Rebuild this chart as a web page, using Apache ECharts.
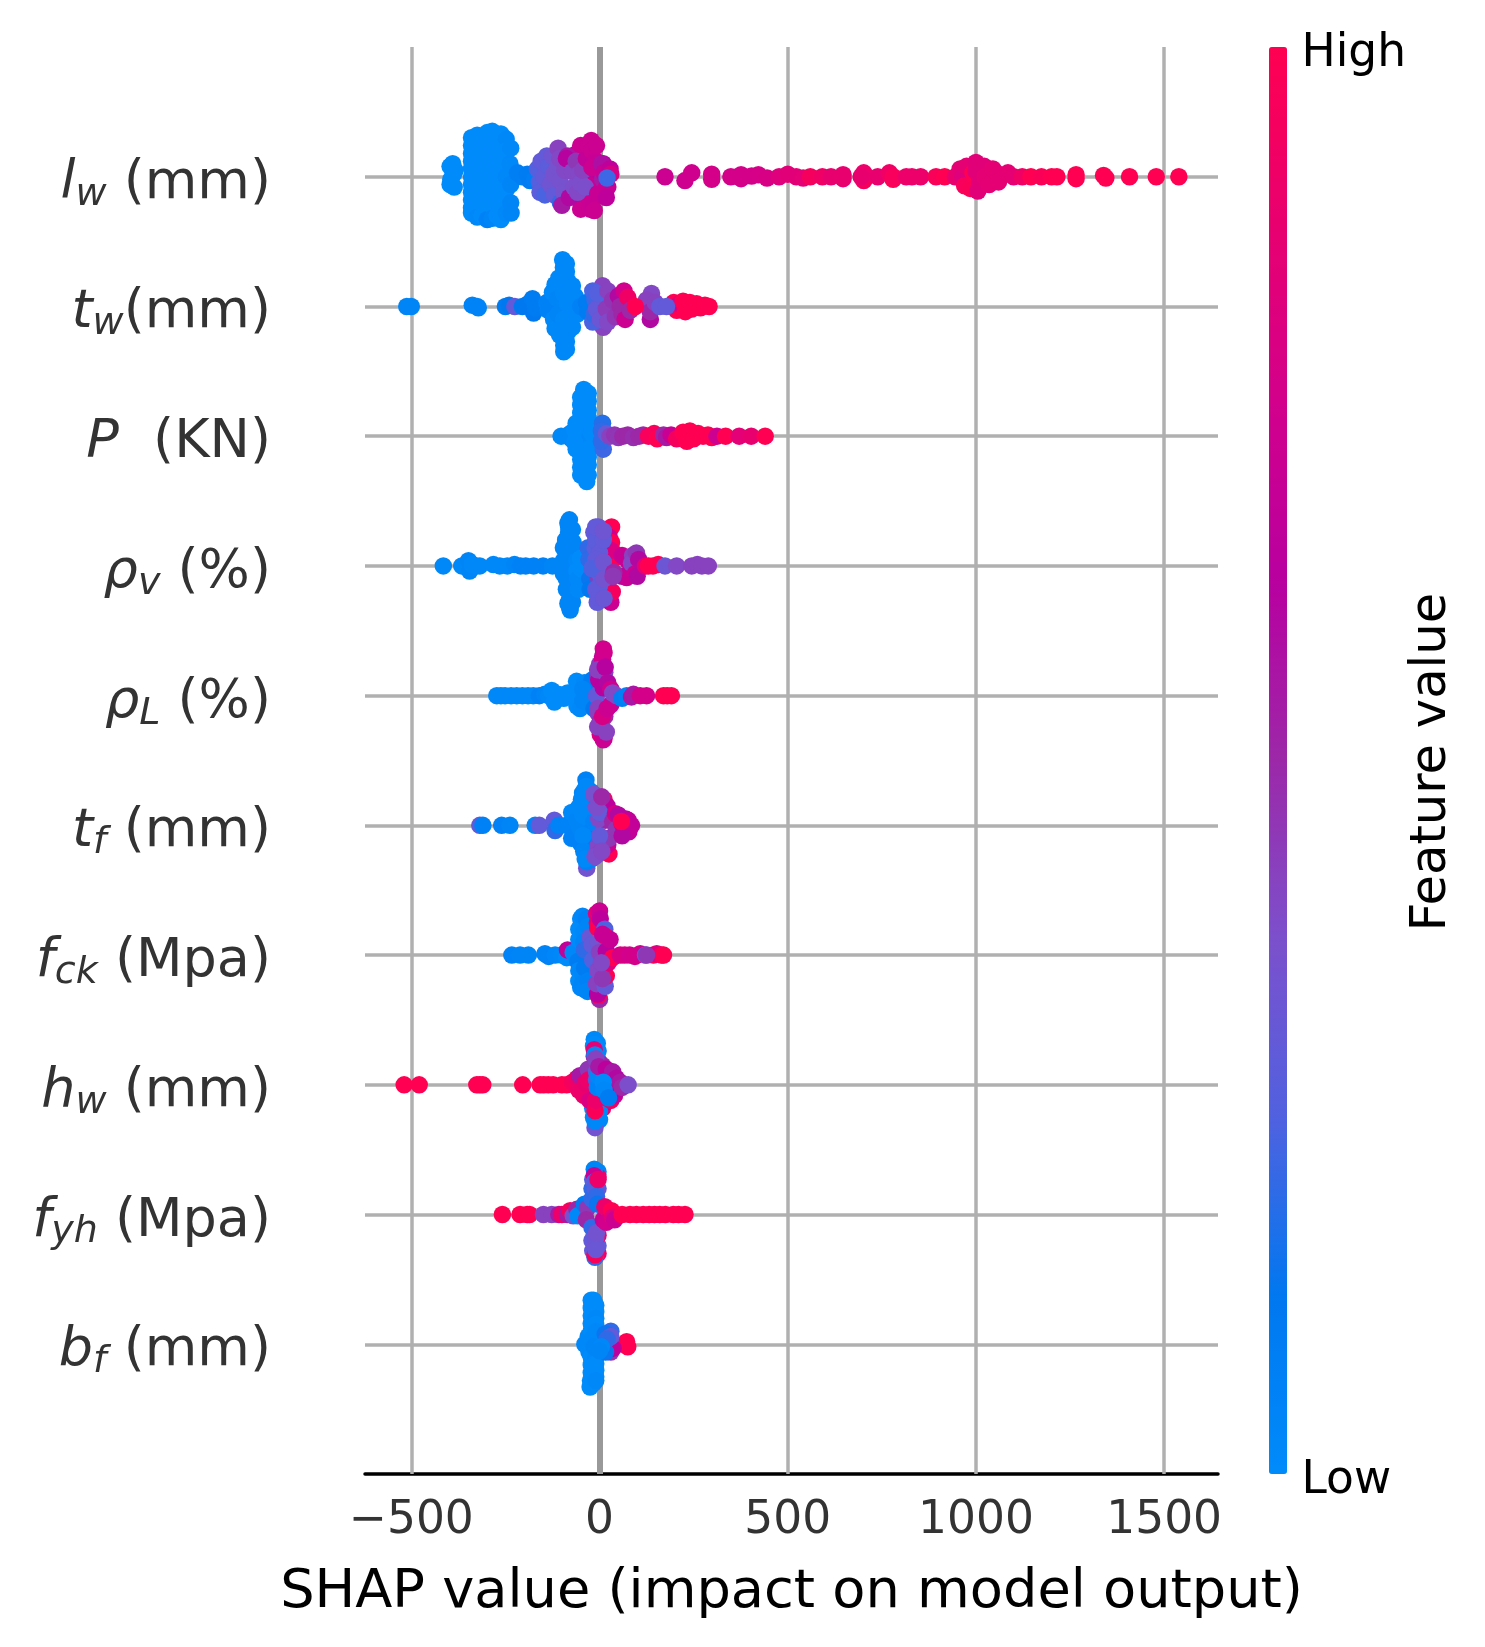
<!DOCTYPE html>
<html>
<head>
<meta charset="utf-8">
<style>html,body{margin:0;padding:0;background:#fff}#c{width:1485px;height:1647px}</style>
<script src="https://cdn.jsdelivr.net/npm/echarts@6/dist/echarts.min.js"></script>
</head>
<body>
<div id="c"></div>
<script>
// Tick labels and categories
const xTicks = [-500, 0, 500, 1000, 1500];
const axisTitle = 'SHAP value (impact on model output)';
const colorbarTitle = 'Feature value';
const colorbarEnds = ['High', 'Low'];
// feature name parts, bottom row first: [symbol, subscript, unit]
const features = [
  ['b','f',' (mm)'],
  ['f','yh',' (Mpa)'],
  ['h','w',' (mm)'],
  ['f','ck',' (Mpa)'],
  ['t','f',' (mm)'],
  ['ρ','L',' (%)'],
  ['ρ','v',' (%)'],
  ['P','','  (KN)'],
  ['t','w','(mm)'],
  ['l','w',' (mm)']
];
// Each point: [SHAP value, swarm offset in row units, normalised feature value]
const lw = [
[-397,.08,0],[-397,-.06,0],[-390,.1,0],[-388,.02,0],[-386,-.08,0],[-384,.05,0],[-395,-.02,0],
[-340,.3,0],[-340,.24,0],[-340,.18,0],[-340,.12,0],[-340,.06,0],[-340,0,0],[-340,-.06,0],[-340,-.12,0],[-340,-.18,0],[-340,-.24,0],[-340,-.28,0],
[-325,.32,0],[-325,.24,0],[-325,.14,0],[-325,.04,0],[-325,-.06,0],[-325,-.16,0],[-325,-.26,0],[-325,-.31,.02],
[-312,.3,0],[-312,.2,0],[-312,.1,0],[-312,0,0],[-312,-.1,0],[-312,-.2,0],[-312,-.3,0],
[-298,.34,0],[-298,.26,0],[-298,.16,0],[-298,.06,0],[-298,-.04,0],[-298,-.14,0],[-298,-.24,0],[-298,-.33,.06],
[-285,.35,0],[-285,.27,0],[-285,.18,0],[-285,.08,0],[-285,-.02,0],[-285,-.12,0],[-285,-.22,0],[-285,-.32,.04],
[-272,.3,0],[-272,.2,0],[-272,.1,0],[-272,0,0],[-272,-.1,0],[-272,-.2,0],[-272,-.3,0],
[-262,.33,0],[-262,.24,0],[-262,.14,0],[-262,.04,0],[-262,-.06,0],[-262,-.16,0],[-262,-.26,0],[-262,-.33,0],
[-248,.29,.02],[-248,.2,0],[-248,.1,0],[-248,0,.02],[-248,-.1,0],[-248,-.2,0],[-248,-.28,.02],
[-238,.1,.02],[-236,-.06,.04],[-236,-.2,.04],[-236,.22,.02],[-235,-.28,.04],
[-218,.03,.08],[-205,.0,.08],[-192,.02,.1],[-185,-.03,.1],[-172,-.02,.08],
[-78,.1,.72],[-70,.14,.72],[-60,.18,.72],[-50,.24,.72],[-42,.16,.72],[-35,.1,.72],[-25,.2,.72],[-30,-.05,.72],[-50,-.25,.72],[-40,-.18,.72],[-30,-.12,.72],[-25,-.2,.72],[-10,.12,.72],[-5,.02,.7],[-8,-.15,.72],[8,-.05,.7],[10,.1,.6],[22,.06,.62],[28,.02,.78],[22,-.08,.7],[15,-.14,.68],
[-165,.06,.26],[-160,-.04,.26],[-158,-.12,.28],[-155,.12,.3],[-148,.0,.3],[-145,-.14,.24],[-140,.16,.3],[-135,.08,.28],[-130,-.06,.34],[-125,.16,.34],[-122,.02,.36],[-120,-.14,.3],[-112,.08,.36],
[-110,.22,.42],[-106,.14,.4],[-105,-.03,.36],[-104,-.2,.2],[-95,-.12,.36],[-100,-.22,.55],[-92,.05,.4],[-85,.16,.55],[-80,-.16,.6],[-88,.14,.62],
[-72,.04,.4],[-68,-.08,.38],[-62,.12,.45],[-55,.02,.4],[-58,-.12,.4],[-50,-.05,.38],[-44,.05,.42],[-38,-.08,.38],
[-35,.14,.68],[-30,.24,.72],[-25,-.25,.72],[-22,.28,.72],[-22,-.22,.7],[-20,.2,.72],[-14,-.26,.72],[-12,.06,.62],[-10,.12,.7],[-8,.24,.72],[-5,-.13,.7],
[-20,.07,.72],[5,.1,.58],[8,-.02,.55],[12,.03,.7],[15,-.1,.7],[18,-.16,.66],[28,.06,.66],[30,.02,.78],[20,-.01,.22],
[174,0,.72],[227,-.03,.73],[245,.03,.74],[298,.02,.76],[298,-.02,.76],[349,0,.76],[376,.015,.76],[376,-.015,.76],[404,.005,.76],[422,.015,.77],[445,-.01,.78],
[477,0,.82],[500,.02,.84],[523,0,.84],[541,-.01,.85],[560,0,.95],[592,0,.92],[615,0,.88],[647,.015,.88],[647,-.015,.88],
[702,.03,.9],[702,-.03,.95],[695,0,.88],[739,0,.88],[770,.03,.92],[780,-.02,1],[780,.0,.96],[815,0,.9],[830,0,.9],[853,0,.9],[894,0,.97],[917,0,1],[945,0,.88],
[958,.06,.86],[965,0,.82],[970,-.07,.96],[975,.08,.86],[985,-.09,.98],[992,.03,1],[1000,.11,.84],[1005,-.11,.84],[1000,.04,.84],[1010,-.04,.84],[1015,.0,.84],[1022,.08,.84],[1025,0,.86],[1035,-.06,.86],
[1045,.06,.86],[1060,.02,.86],[1060,-.04,.86],[1085,.03,.86],[1100,0,.86],[1123,0,.92],[1146,0,1],[1174,0,.98],[1201,0,1],[1215,0,1],
[1266,.015,1],[1266,-.015,1],[1339,.01,1],[1345,-.01,1],[1408,0,1],[1479,0,1],[1539,0,1]
];
const tw = [
[-512,0,.04],[-500,0,.04],[-338,.01,.05],[-325,0,.05],[-322,-.01,.05],
[-250,0,.1],[-240,.01,.12],[-225,0,.3],[-205,0,.12],[-190,.02,.12],[-178,.06,.1],[-175,-.05,.12],[-170,-.01,.1],[-155,0,.1],
[-140,.03,.06],[-136,-.03,.06],[-125,.11,.02],[-122,-.1,.02],[-118,.17,.02],[-118,-.17,.02],[-112,.06,.04],[-110,-.06,.04],[-108,.22,.02],[-106,-.22,.02],
[-98,.36,.02],[-96,.3,.02],[-96,.24,.02],[-96,.17,.02],[-95,.1,.02],[-95,-.1,.02],[-95,-.18,.02],[-95,-.24,.02],[-95,-.3,.02],[-95,-.35,.02],
[-88,.33,.02],[-88,.27,.02],[-88,-.27,.02],[-88,-.33,.02],[-85,.2,.02],[-85,-.2,.02],
[-85,.02,.02],[-80,.12,.02],[-78,-.12,.02],[-72,-.02,.02],[-72,.16,.02],[-72,-.16,.02],[-65,.08,.02],[-60,-.06,.02],[-50,0,.06],[-35,.03,.1],[-32,-.04,.1],
[8,.16,.42],[10,-.16,.42],[14,.07,.38],[-18,.12,.24],[-18,-.12,.24],[-15,-.06,.2],[-12,.05,.22],[-8,-.02,.3],[-5,.1,.26],[2,-.1,.33],[18,-.02,.44],[22,.12,.42],[22,-.12,.4],
[35,.05,.46],[42,-.08,.46],[50,.08,.6],[55,.0,.5],[60,-.06,.5],[65,.12,.75],[68,-.1,.72],[75,.07,.92],[82,-.03,.5],
[197,.03,1],[205,-.03,1],[212,.02,.8],[222,.04,1],[228,-.04,1],[240,.03,1],[245,-.02,1],[258,.02,1],[268,-.01,1],[280,.01,1],[291,0,1],
[138,.1,.4],[135,-.1,.6],[125,.05,.42],[135,-.04,.5],[148,.03,.42],[160,0,.3],[178,.0,.3],[95,0,1]
];
const P = [
[-102,0,.02],[-78,.02,.02],[-75,-.02,.02],
[-50,.3,0],[-50,.24,0],[-50,.18,0],[-50,.12,0],[-50,.06,0],[-50,0,0],[-50,-.06,0],[-50,-.12,0],[-50,-.18,0],[-50,-.24,0],[-50,-.3,0],
[-42,.36,0],[-42,.3,0],[-40,.24,0],[-40,.18,0],[-40,.12,0],[-40,.06,0],[-40,0,0],[-40,-.06,0],[-40,-.12,0],[-40,-.18,0],[-38,-.24,0],[-36,-.3,0],[-34,-.35,0],
[-30,.33,0],[-30,.27,0],[-30,.2,0],[-30,.14,0],[-30,.08,0],[-30,-.02,.02],[-30,-.1,0],[-30,-.16,0],[-30,-.22,0],[-30,-.3,0],
[-66,.05,0],[-66,-.05,0],[-62,.1,0],[-62,-.1,0],[-20,.02,0],
[8,.1,.18],[10,-.1,.22],[5,.04,.2],[5,-.04,.2],[18,.02,.3],[28,0,.42],[40,.01,.46],[50,-.01,.45],[62,.0,.5],[75,.01,.5],[90,-.01,.48],[105,0,.5],[116,.01,.5],
[130,0,.96],[145,.02,.96],[153,-.02,1],[170,.01,.5],[178,-.01,.55],[190,.01,.7],[205,-.02,.95],[222,.03,1],[232,-.04,1],[240,.04,1],[250,-.02,1],[262,.02,1],[275,0,1],[288,.01,1],[298,-.01,1],[312,0,.72],
[335,0,1],[371,0,.85],[403,0,.88],[440,0,1]
];
const rhoV = [
[-415,0,.02],[-366,0,.02],[-355,.01,.02],[-348,.04,.04],[-345,-.04,.04],[-338,.01,.02],[-328,0,.02],[-318,0,.02],
[-282,.01,.02],[-265,0,.02],[-245,0,.02],[-226,.01,.04],[-210,0,.06],[-196,.0,.06],[-175,0,.06],[-150,0,.06],[-125,0,.04],
[-96,.14,.04],[-96,.04,.04],[-96,-.06,.04],[-90,.2,.04],[-84,.33,.04],[-82,.26,.04],[-80,.355,.04],[-80,.1,.04],[-80,-.14,.02],[-80,-.2,.04],[-80,-.26,.04],[-79,-.32,.04],[-78,-.34,.04],
[-82,.3,.04],[-82,.22,.04],[-85,.16,.04],[-88,-.1,.04],[-88,-.18,.04],[-84,-.29,.04],[-72,.28,.04],[-72,-.28,.04],[-70,.18,.04],[-70,.1,.04],[-70,0,.04],[-70,-.1,.04],[-70,-.2,.04],
[-62,.12,.04],[-60,.04,.02],[-60,-.04,0],[-58,-.1,.02],[-56,-.18,.02],[-50,.06,0],[-48,-.02,0],
[32,.3,1],[26,.22,.7],[32,.18,1],[30,-.28,.72],[34,-.2,.95],[38,.1,1],[40,.06,1],[30,.12,.8],
[-30,.14,.2],[-28,.05,.2],[-26,-.1,.14],[-25,-.18,.12],[-15,.26,.3],[-12,.14,.28],[-10,.2,.28],[-6,-.28,.3],[-5,-.22,.3],[-4,-.08,.44],[-3,.3,.34],[0,.1,.3],[0,-.15,.28],[-2,-.05,.3],[-3,-.24,.3],[-10,.3,.3],[-10,-.18,.3],[-10,.05,.3],[-20,-.02,.25],
[10,.2,.3],[10,.27,.34],[12,-.1,.35],[12,-.25,.32],[10,.03,.34],
[60,.08,.7],[60,-.08,.6],[75,.04,.7],[72,-.09,.7],[88,.08,.42],[85,.02,.4],[95,-.06,.72],[98,.1,.45],[100,-.08,.6],[104,.05,.6],[38,-.05,.5],[36,-.08,.45],
[122,0,.85],[130,0,1],[142,0,1],[156,.01,1],[174,0,.33],[205,0,.4],[245,0,.42],[260,.01,.42],[272,0,.42],[289,0,.42]
];
const rhoL = [
[-273,0,.02],[-262,0,.02],[-251,0,.02],[-235,0,.02],[-220,0,.02],[-205,0,.02],[-190,0,.02],[-176,0,.02],[-160,0,.06],[-145,.01,.04],[-135,0,.02],
[-127,.04,0],[-120,-.05,0],[-110,.01,0],[-95,-.02,0],[-85,.02,0],[-70,0,0],[-61,.11,0],[-60,-.08,0],[-58,.02,0],[-52,-.1,.02],[-40,.1,.02],[-35,-.05,.04],[-28,.02,.04],[-20,.12,.1],[-45,-.04,.04],[-45,.05,.04],
[-15,-.1,.12],[-8,.0,.3],[-5,.16,.46],[-3,-.14,.42],[0,.24,.44],[2,-.3,.8],[2,-.2,.5],[-2,.12,.62],[5,-.24,.44],[8,.3,.62],[10,.36,.75],[12,.33,.75],[8,.28,.75],[12,-.33,.75],[10,-.26,.42],[10,-.34,.72],[10,.06,.62],
[-5,.2,.42],[-5,-.24,.42],[-4,-.1,.42],[14,.18,.42],[14,-.16,.5],[18,-.28,.42],[15,.22,.62],[8,-.16,.78],
[22,.1,.6],[20,-.1,.72],[30,.05,.75],[30,-.07,.72],[35,.02,.4],[45,.0,.4],[60,-.02,.08],[72,0,.06],[85,-.01,.56],[90,.01,.55],[108,.0,.76],[125,0,.76],[170,0,1],[180,0,1],[191,0,1]
];
const tf = [
[-318,0,.3],[-310,0,.06],[-260,0,.06],[-238,0,.04],[-171,0,.04],[-160,0,.3],[-120,.04,.3],[-118,-.04,.2],[-108,0,.05],[-87,.0,.05],[-74,.1,.02],[-74,-.1,.06],[-60,.04,.04],
[-55,.14,.02],[-52,-.02,.04],[-50,-.14,.06],[-45,.25,.04],[-42,.17,.02],[-36,.35,.06],[-35,.3,.02],[-34,-.33,.35],[-34,-.28,.06],[-34,-.23,.02],[-32,-.17,.06],[-30,.22,.02],[-28,.12,.02],[-28,.05,.02],[-25,-.05,.05],[-20,-.11,.1],[-22,.2,.3],
[-48,.2,.02],[-44,.08,.02],[-44,-.08,.02],[-42,-.2,.04],[-22,.26,.04],[-22,-.26,.06],[-15,.03,.05],[-38,.28,.02],[-38,-.26,.02],
[12,.2,1],[18,.1,1],[20,.15,.65],[25,-.22,1],[22,-.15,.72],[15,.04,.5],[25,-.1,.45],
[-5,.18,.45],[-2,.05,.4],[-4,-.16,.4],[0,-.08,.3],[0,.1,.3],[-3,-.22,.42],[-15,.24,.36],[-12,-.24,.38],[-8,.14,.38],[6,.22,.5],[6,-.2,.4],
[35,.03,.5],[42,.09,.78],[45,-.03,.45],[50,.08,.6],[60,.01,.6],[70,.05,.6],[76,.04,.68],[78,-.05,.68],[85,.0,.68],[60,-.08,.6],[58,.03,1]
];
const fck = [
[-233,0,.05],[-211,0,.04],[-189,0,.04],[-145,.01,.05],[-135,-.01,.05],[-118,0,.03],[-100,.0,.02],[-87,-.02,.0],[-85,.04,.68],[-70,.02,.02],[-61,.03,.02],[-58,-.05,.1],
[-55,.2,0],[-55,.12,0],[-55,-.12,.02],[-55,-.2,0],[-50,.28,.02],[-50,-.25,.03],[-48,.24,.0],[-45,.3,.03],[-42,.18,.02],[-42,.1,.04],[-45,-.15,.02],[-46,-.22,.04],[-42,-.26,.03],[-40,.04,.2],[-40,-.1,.1],[-35,.28,.06],
[-30,.22,.04],[-30,-.2,.06],[-32,-.28,.04],[-25,.14,.32],[-20,.08,.3],[-18,-.04,.26],[-8,.32,.85],[-6,.25,.9],[-5,.21,1],[0,.34,.72],[2,.28,.65],[0,-.34,.5],[-3,-.31,1],[-5,-.3,.62],[-8,-.22,.42],[-5,-.12,.4],[-3,.1,.34],[0,.02,.42],
[14,.2,.25],[15,-.24,.3],[18,-.16,1],[18,.14,1],[18,.03,.62],[23,-.06,.82],[28,.12,.7],[35,-.02,1],[8,.16,.7],[8,-.18,.45],[5,-.06,.4],
[55,.0,.78],[67,.0,.78],[80,.0,.75],[94,-.01,.76],[108,.01,.75],[122,.0,.3],[143,.0,1],[152,.01,.8],[165,0,.95],[170,0,1],[125,0,.45]
];
const hw = [
[-519,0,1],[-479,0,1],[-326,0,1],[-318,0,1],[-310,0,1],[-204,0,1],[-158,0,1],[-148,0,1],[-136,0,1],[-123,0,1],[-100,0,1],[-87,0,1],[-72,.02,.95],[-60,.05,.9],[-55,-.04,.9],[-52,.07,.55],[-42,-.08,.9],[-38,.01,.88],
[-14,-.18,.9],[-8,-.16,.85],[-14,.22,.5],[-5,.26,.85],[-2,.18,.6],[8,-.18,.95],[8,.15,.5],[12,-.14,.6],[0,-.2,.02],[-10,-.24,.02],[0,-.27,.02],[-6,.32,.02],[-4,.26,.02],[-16,.3,.02],[-16,-.25,.02],[-18,-.18,.02],
[-30,.12,.45],[-28,.04,.9],[-26,-.12,.8],[-14,.35,.02],[-14,.31,.0],[-14,.27,.85],[-12,.23,.02],[-12,-.33,.35],[-12,-.28,.02],[-12,-.24,.02],[-12,-.2,.98],[-10,.2,.42],[-10,-.12,.9],[-8,.1,.3],[-8,.04,.25],[-6,-.02,.05],[-4,.07,.02],[-2,.14,.55],
[18,.12,.65],[20,-.1,.92],[25,.02,.75],[30,-.12,.95],[35,.1,.55],[36,.02,.85],[40,-.08,.7],[45,.05,.6],[45,-.04,.62],[55,.02,.55],[60,-.02,.5],[76,0,.38],[10,.02,.0],[12,-.04,.02],[24,-.1,.1]
];
const fyh = [
[-258,0,1],[-211,0,1],[-192,0,1],[-186,0,1],[-149,0,.42],[-127,0,.42],[-108,0,.55],[-100,0,.9],[-85,0,.55],[-78,.03,.95],[-70,-.01,.35],[-60,.04,.5],[-58,-.01,.02],[-40,.08,.1],[-32,.05,.45],[-35,-.04,.5],
[-4,.33,.04],[-4,.29,.9],[-4,-.3,.9],[-4,-.24,.3],[-4,-.16,.95],[-4,.2,.3],[-20,.2,.2],[-20,-.1,.2],[-20,.12,.2],[-20,-.2,.3],[-18,-.28,.3],[-18,.27,.25],
[-14,.35,.04],[-14,.3,.7],[-14,.25,.28],[-12,.2,.25],[-12,-.33,.2],[-12,-.31,.98],[-12,-.24,.35],[-10,-.18,.32],[-8,-.14,.35],[-8,.14,.2],[-5,.08,.14],[-4,.27,.9],[-10,-.27,.32],
[10,-.04,.7],[14,.06,.9],[18,-.06,.75],[32,.03,1],[35,-.02,.85],[40,-.04,.72],
[60,0,1],[81,0,1],[98,0,1],[116,0,1],[132,0,1],[146,0,1],[160,0,1],[175,0,1],[196,0,1],[210,0,1],[227,0,1]
];
const bf = [
[-39,0,.02],[-30,.06,.02],[-28,-.06,.02],[-22,.34,0],[-22,.28,0],[-22,.22,0],[-22,.16,0],[-22,.1,0],[-22,.04,.02],[-22,-.04,.02],[-22,-.1,0],[-22,-.16,0],[-22,-.22,0],[-24,-.28,0],[-25,-.33,0],
[-16,.34,0],[-16,.28,0],[-16,.22,0],[-16,.16,0],[-16,-.16,0],[-16,-.24,0],[-16,-.3,0],
[-10,.3,0],[-10,.25,0],[-10,.2,.02],[-10,.15,0],[-10,.1,.02],[-10,-.1,.02],[-10,-.15,0],[-10,-.2,.0],[-10,-.25,0],[-10,-.28,.02],[-15,-.02,.04],
[72,.02,1],[66,.0,1],[75,-.02,1],[30,.1,.2],[30,.0,.3],[30,-.06,.45],[36,-.03,.66],[15,.08,.14],[16,-.06,.14],[30,.06,.3],[20,.04,.2],[5,-.02,.02],[0,-.05,.04]
];
const rows = [bf, fyh, hw, fck, tf, rhoL, rhoV, P, tw, lw];
const colorStops = ['#008bfb','#0078f0','#5061e0','#7c50cc','#9c28a8','#b800a0','#d2008c','#e80070','#ff0052'];

const richStyles = {
  i:{fontFamily:'DejaVu Sans',fontStyle:'italic',fontSize:54,color:'#333'},
  s:{fontFamily:'DejaVu Sans',fontStyle:'italic',fontSize:38,color:'#333',padding:[22,0,0,0]},
  n:{fontFamily:'DejaVu Sans',fontSize:54,color:'#333'}
};
const chart = echarts.init(document.getElementById('c'), null, {renderer:'canvas'});
const series = rows.map((r,i)=>({
  type:'scatter', name:features[i].join(''), symbol:'circle', symbolSize:17.5, silent:true, z:3,
  itemStyle:{opacity:1,borderWidth:0},
  data:r.map(p=>[p[0], i+p[1], p[2]])
}));
series.unshift({
  type:'scatter', data:[], z:1, silent:true,
  markLine:{silent:true, symbol:'none', z:1, label:{show:false}, animation:false,
    lineStyle:{color:'#b0b0b0',width:3.5,type:'solid'},
    data:xTicks.filter(t=>t!==0).map(t=>({xAxis:t})).concat([{xAxis:0,lineStyle:{color:'#999999',width:6,type:'solid'}}])}
});
chart.setOption({
  animation:false,
  backgroundColor:'#fff',
  textStyle:{fontFamily:'DejaVu Sans'},
  grid:{left:365,top:47,width:853,height:1427,containLabel:false},
  xAxis:{
    type:'value', min:-623, max:1643,
    name:axisTitle, nameLocation:'middle', nameGap:92,
    nameTextStyle:{fontFamily:'DejaVu Sans',fontSize:54.2,color:'#000'},
    axisLine:{show:true,onZero:false,lineStyle:{color:'#000',width:3.5}},
    axisTick:{show:false},
    axisLabel:{fontFamily:'DejaVu Sans',fontSize:45.5,color:'#333',margin:24,customValues:xTicks,
      formatter:v=>String(v).replace('-','\u2212')},
    splitLine:{show:false}
  },
  yAxis:{
    type:'value', min:-1, max:10, interval:1,
    axisLine:{show:false}, axisTick:{show:false},
    axisLabel:{margin:94,padding:[14,0,0,0],showMinLabel:false,showMaxLabel:false,rich:richStyles,
      formatter:v=>{
        const f=features[v]; if(!f) return '';
        return '{i|'+f[0]+'}'+(f[1]?'{s|'+f[1]+'}':'')+'{n|'+f[2]+'}';
      }},
    splitLine:{show:true,showMinLine:false,showMaxLine:false,lineStyle:{color:'#b0b0b0',width:3.5}}
  },
  visualMap:{
    type:'continuous', dimension:2, min:0, max:1, calculable:false, hoverLink:false, seriesIndex:rows.map((_,i)=>i+1),
    left:1269, top:47, itemWidth:18, itemHeight:1427, padding:0, showLabel:false, text:null,
    inRange:{color:colorStops}
  },
  graphic:[
    {type:'text',left:1301.5,top:31,silent:true,style:{text:colorbarEnds[0],fontFamily:'DejaVu Sans',fontSize:45.5,fill:'#000'}},
    {type:'text',left:1301.5,top:1458,silent:true,style:{text:colorbarEnds[1],fontFamily:'DejaVu Sans',fontSize:45.5,fill:'#000'}},
    {type:'text',x:1432,y:762,rotation:Math.PI/2,silent:true,style:{text:colorbarTitle,fontFamily:'DejaVu Sans',fontSize:49.6,fill:'#000',textAlign:'center',textVerticalAlign:'middle'}}
  ],
  series
});
</script>
</body>
</html>
